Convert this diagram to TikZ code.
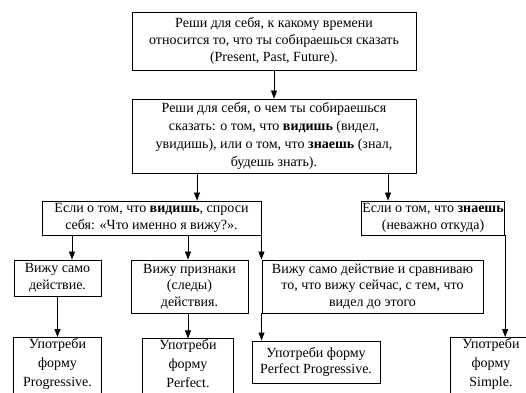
\documentclass[tikz,border=0pt]{standalone}
\usepackage{fontspec}
\setmainfont{Liberation Serif}
\usetikzlibrary{arrows.meta,positioning}
\tikzset{box/.style={draw, line width=0.9pt, align=center, inner sep=1pt,
    font=\fontsize{14}{16.7}\selectfont},
  arr/.style={-{Triangle[length=8pt,width=6pt]}, line width=0.8pt}}

\begin{document}
\begin{tikzpicture}[x=1pt,y=-1pt]
  \useasboundingbox (0,0) rectangle (526,392);
  \clip (0,0) rectangle (526,392);
  % top questions
  \node[box, minimum width=284pt, minimum height=58pt, font=\fontsize{14}{17.2}\selectfont] (when) at (274,41)
    {Реши для себя, к какому времени\\относится то, что ты собираешься сказать\\(Present, Past, Future).};
  \node[box, minimum width=284pt, minimum height=74pt, font=\fontsize{14}{18.3}\selectfont] (what) at (274,136)
    {Реши для себя, о чем ты собираешься\\сказать: о том, что \textbf{видишь} (видел,\\увидишь), или о том, что \textbf{знаешь} (знал,\\будешь знать).};
  \draw[arr] (when) -- (what);
  % see / know
  \node[box, minimum width=219pt, minimum height=34pt] (see) at (151.5,218)
    {Если о том, что \textbf{видишь}, спроси\\себя: «Что именно я вижу?».};
  \node[box, minimum width=142pt, minimum height=34pt] (know) at (433,218)
    {Если о том, что \textbf{знаешь}\\(неважно откуда)};
  \coordinate (cs) at (197,0);
  \coordinate (ck) at (388,0);
  \draw[arr] (what.south -| cs) -- (see.north -| cs);
  \draw[arr] (what.south -| ck) -- (know.north -| ck);
  % what exactly is seen
  \node[box, minimum width=87pt, minimum height=36pt] (act) at (57.5,278)
    {Вижу само\\действие.};
  \node[box, minimum width=117pt, minimum height=53pt] (trace) at (189.5,286.5)
    {Вижу признаки\\(следы)\\действия.};
  \node[box, minimum width=221pt, minimum height=53pt] (cmp) at (372.5,286.5)
    {Вижу само действие и сравниваю\\то, что вижу сейчас, с тем, что\\видел до этого};
  \coordinate (ca) at (72,0);
  \coordinate (ct) at (188,0);
  \draw[arr] (see.south -| ca) -- (act.north -| ca);
  \draw[arr] (see.south -| ct) -- (trace.north -| ct);
  \draw[arr] (see.south east) -- (see.south east |- cmp.north);
  % forms (cut off at the bottom edge)
  \foreach \n/\x/\w/\t in {prog/57.5/87/Progressive., perf/188/90/Perfect., simp/491/80/Simple.}{
    \node[box, draw=none, minimum width=\w pt, minimum height=48pt, font=\fontsize{14}{19}\selectfont] (\n) at (\x,364)
      {Употреби\\форму\\\t};
    \draw[line width=0.9pt] ([yshift=-12pt]\n.south west) |- (\n.north east) -- ([yshift=-12pt]\n.south east);}
  \node[box, minimum width=128pt, minimum height=42pt] (perfprog) at (316,362)
    {Употреби форму\\Perfect Progressive.};
  \draw[arr] (act) -- (act |- prog.north);
  \draw[arr] (trace.south -| ct) -- (perf.north -| ct);
  \draw[arr] (cmp.south west) -- (cmp.south west |- perfprog.north);
  \draw[arr] (know.south east) -- (know.south east |- simp.north);
\end{tikzpicture}
\end{document}
